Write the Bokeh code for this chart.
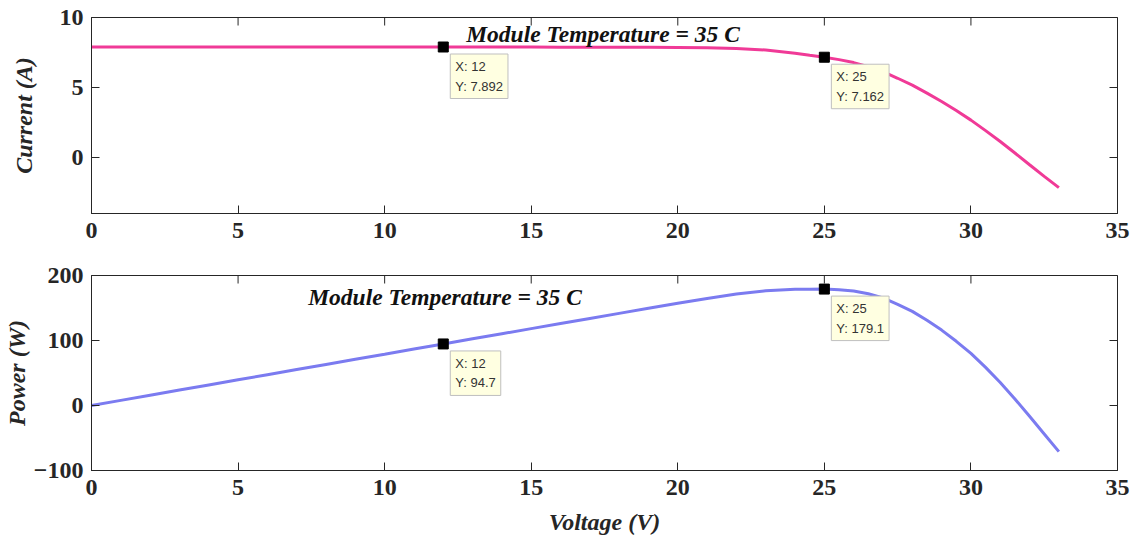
import math
from bokeh.plotting import figure
from bokeh.layouts import column
from bokeh.models import Range1d, FixedTicker, Label
from bokeh.embed import file_html
from bokeh.resources import INLINE

# PV module sweep at 35 C (finer steps through the knee)
voltage = [0, 1, 2, 3, 4, 5, 6, 7, 8, 9, 10, 11, 12, 13, 14, 15, 16,
           17, 18, 19, 20, 21, 22, 23, 24, 24.5, 25, 25.5, 26, 26.5, 27,
           27.5, 28, 28.5, 29, 29.5, 30, 30.5, 31, 31.5, 32, 32.5, 33]
current = [7.900, 7.899, 7.899, 7.898, 7.898, 7.897, 7.897, 7.896, 7.895,
           7.895, 7.894, 7.893, 7.892, 7.890, 7.888, 7.885, 7.882, 7.878,
           7.874, 7.868, 7.860, 7.840, 7.790, 7.680, 7.450, 7.300, 7.162,
           6.990, 6.780, 6.490, 6.130, 5.660, 5.170, 4.600, 4.000, 3.350,
           2.670, 1.920, 1.140, 0.320, -0.520, -1.350, -2.150]
power = [0.0, 7.9, 15.8, 23.7, 31.6, 39.5, 47.4, 55.3, 63.2, 71.1, 78.9,
         86.8, 94.7, 102.6, 110.4, 118.3, 126.1, 133.9, 141.7, 149.5, 157.2,
         164.6, 171.4, 176.6, 178.8, 178.9, 179.1, 178.2, 176.3, 172.0,
         165.5, 155.7, 144.8, 131.1, 116.0, 98.8, 80.1, 58.6, 35.3, 10.1,
         -16.6, -43.9, -71.0]

# data cursor points
tip_voltage = [12, 25]
tip_current = [7.892, 7.162]
tip_power = [94.7, 179.1]

x_ticks = [0, 5, 10, 15, 20, 25, 30, 35]
current_ticks = [0, 5, 10]
power_ticks = [-100, 0, 100, 200]

SERIF = "Liberation Serif"
SANS = "Liberation Sans"
INK = "#262626"


def style_axis(ax, ticks):
    ax.ticker = FixedTicker(ticks=ticks)
    ax.major_tick_in = 8
    ax.major_tick_out = 0
    ax.minor_tick_line_color = None
    ax.axis_line_color = INK
    ax.major_tick_line_color = INK
    ax.major_label_text_font = SERIF
    ax.major_label_text_font_style = "bold"
    ax.major_label_text_color = INK
    ax.major_label_text_font_size = "24px"


def make_panel(height, top, bottom, y_range, y_ticks, ylabel, label_standoff):
    p = figure(width=1137, height=height, output_backend="svg",
               toolbar_location=None, x_range=Range1d(0, 35), y_range=y_range,
               min_border_left=91, min_border_right=20,
               min_border_top=top, min_border_bottom=bottom)
    p.xgrid.visible = False
    p.ygrid.visible = False
    p.outline_line_color = INK
    p.background_fill_color = "white"
    p.border_fill_color = "white"
    xa = p.below[0]
    ya = p.left[0]
    style_axis(xa, x_ticks)
    style_axis(ya, y_ticks)
    xa.major_label_standoff = 9
    ya.major_label_standoff = 8
    ya.axis_label = ylabel
    ya.axis_label_text_font = SERIF
    ya.axis_label_text_font_style = "bold italic"
    ya.axis_label_text_font_size = "24px"
    ya.axis_label_text_color = INK
    ya.axis_label_standoff = label_standoff
    # inward ticks on the top and right edges of the box (clipped to the frame)
    p.scatter(x_ticks, [y_range.end] * len(x_ticks), marker="dash",
              size=16, angle=math.pi / 2, line_color=INK, line_width=1)
    p.scatter([35] * len(y_ticks), y_ticks, marker="dash",
              size=16, line_color=INK, line_width=1)
    return p


def add_tip(p, x, y, text):
    p.add_layout(Label(x=x, y=y, x_offset=7, y_offset=-7, text=text,
                       text_font=SANS, text_font_size="13px",
                       text_color="#333333", text_align="left",
                       text_baseline="top", text_line_height=1.3,
                       padding=5, background_fill_color="#FFFFE1",
                       border_line_color="#BFBFBF", border_line_width=1))


def add_title(p, x, y):
    p.add_layout(Label(x=x, y=y, text="Module Temperature = 35 C",
                       text_font=SERIF, text_font_style="bold italic",
                       text_font_size="23.5px", text_color="#111111",
                       text_align="center", text_baseline="middle"))


# Current vs voltage
p1 = make_panel(254, 17, 41, Range1d(-4, 10), current_ticks, "Current (A)", 20)
p1.line(voltage, current, line_color="#F03A97", line_width=3)
p1.scatter(tip_voltage, tip_current, marker="square", size=10,
           fill_color="black", line_color="black")
for vx, vy in zip(tip_voltage, tip_current):
    add_tip(p1, vx, vy, f"X: {vx}\nY: {vy:.3f}")
add_title(p1, 17.45, 8.85)

# Power vs voltage
p2 = make_panel(290, 21, 74, Range1d(-100, 200), power_ticks, "Power (W)", 1)
p2.line(voltage, power, line_color="#7B7BF0", line_width=3)
p2.scatter(tip_voltage, tip_power, marker="square", size=10,
           fill_color="black", line_color="black")
for vx, vy in zip(tip_voltage, tip_power):
    add_tip(p2, vx, vy, f"X: {vx}\nY: {vy:.1f}")
add_title(p2, 12.06, 167)
xb = p2.below[0]
xb.axis_label = "Voltage (V)"
xb.axis_label_text_font = SERIF
xb.axis_label_text_font_style = "bold italic"
xb.axis_label_text_font_size = "24px"
xb.axis_label_text_color = INK
xb.axis_label_standoff = 11

layout = column(p1, p2, spacing=0)
open("out.html", "w").write(file_html(layout, INLINE))
